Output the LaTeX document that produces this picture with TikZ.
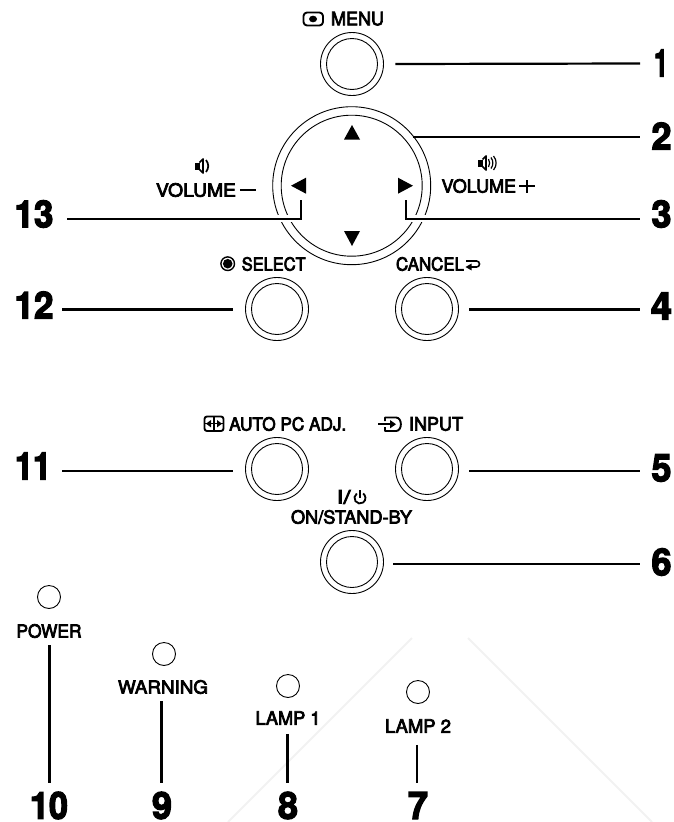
\documentclass[tikz,border=0pt]{standalone}
\usepackage{fontspec}
\usepackage{graphicx}
\setmainfont{TeX Gyre Heros}
\newfontfamily\lblfont[FakeBold=4]{TeX Gyre Heros}
\newfontfamily\numfont[FakeBold=3.5]{TeX Gyre Heros Bold}
\tikzset{
  btnouter/.style={circle,draw=black,line width=0.9pt,minimum size=63pt,inner sep=0pt},
  btninner/.style={circle,draw=black,line width=0.9pt,minimum size=51pt,inner sep=0pt},
  led/.style={circle,draw=black,line width=0.9pt,minimum size=23pt,inner sep=0pt},
  lbl/.style={inner sep=0pt,font=\lblfont\fontsize{18}{18}\selectfont},
  num/.style={inner sep=0pt,font=\numfont\fontsize{39}{39}\selectfont},
  leader/.style={draw=black,line width=2.2pt},
  halo/.style={draw=white,line width=7pt},
  icon/.style={draw=black,line width=1.9pt,line join=round},
  arrowtri/.style={fill=black,draw=none},
  wmark/.style={draw=black!5,line width=2pt}
}
\newcommand{\Lbl}[5]{\node[lbl] (#1) at (#2,#3) {\resizebox{#4pt}{13.5pt}{#5}};}
\newcommand{\Num}[5]{\node[num] (#1) at (#2,#3) {\resizebox{#4pt}{27pt}{#5}};}
\newcommand{\SpeakerIcon}[2]{%
  \fill (#1-8,#2-3.5) rectangle (#1-3.5,#2+3.5);
  \draw[line width=1.7pt,line join=round] (#1-3.5,#2-3.5) -- (#1,#2-7) -- (#1,#2+7) -- (#1-3.5,#2+3.5);
}
\begin{document}
\begin{tikzpicture}[x=1pt,y=-1pt]
\useasboundingbox (0,0) rectangle (674,822);
% faint watermark
\draw[wmark] (412,638) -- (228,822);
\draw[wmark] (468,638) -- (652,822);
% ring
\node[circle,draw=black,line width=0.9pt,minimum size=158pt,inner sep=0pt] (ringout) at (351.7,185.7) {};
\node[circle,draw=black,line width=0.9pt,minimum size=141pt,inner sep=0pt] (ringin) at (351.7,185.7) {};
% buttons
\node[btnouter] (b1) at (352,64) {};   \node[btninner] (b1i) at (352,64) {};
\node[btnouter] (b12) at (277,309) {}; \node[btninner] (b12i) at (277,309) {};
\node[btnouter] (b4) at (427,309) {};  \node[btninner] (b4i) at (427,309) {};
\node[btnouter] (b11) at (277,469) {}; \node[btninner] (b11i) at (277,469) {};
\node[btnouter] (b5) at (427,469) {};  \node[btninner] (b5i) at (427,469) {};
\node[btnouter] (b6) at (352,562) {};  \node[btninner] (b6i) at (352,562) {};
% leds
\node[led] (l10) at (49,597) {};
\node[led] (l9) at (164,654) {};
\node[led] (l8) at (288,686) {};
\node[led] (l7) at (418,692) {};
% direction triangles
\fill[arrowtri] (352,125) -- (360,139.5) -- (344,139.5) -- cycle;
\fill[arrowtri] (352,246) -- (360,231) -- (344,231) -- cycle;
\fill[arrowtri] (291,185.7) -- (306,177.7) -- (306,193.7) -- cycle;
\fill[arrowtri] (413,185.7) -- (398,177.7) -- (398,193.7) -- cycle;
% labels
\Lbl{menu}{357.5}{18.7}{53}{MENU}
\Lbl{volm}{196}{190}{80}{VOLUME}
\Lbl{volp}{478.8}{186}{74.5}{VOLUME}
\Lbl{select}{273.7}{264}{64}{SELECT}
\Lbl{cancel}{430}{264}{68}{CANCEL}
\Lbl{auto}{287.7}{424}{117}{AUTO PC ADJ.}
\Lbl{input}{436}{424}{54}{INPUT}
\Lbl{onstand}{351.5}{517}{121}{ON/STAND-BY}
\Lbl{islash}{343.5}{497}{14}{I/}
\Lbl{power}{49}{631}{65}{POWER}
\Lbl{warning}{163}{687}{90}{WARNING}
\Lbl{lamp1}{288}{718}{65}{LAMP 1}
\Lbl{lamp2}{418}{726}{66}{LAMP 2}
% numbers
\Num{n1}{661}{63}{14}{1}
\Num{n2}{661.5}{136}{20}{2}
\Num{n3}{661.5}{214}{20}{3}
\Num{n4}{661.5}{306}{21}{4}
\Num{n5}{661.5}{468}{20}{5}
\Num{n6}{661.5}{562}{20}{6}
\Num{n13}{34}{214}{39}{13}
\Num{n12}{34}{305}{39}{12}
\Num{n11}{33}{466}{36}{11}
\Num{n10}{49}{805.5}{38}{10}
\Num{n9}{162}{805.5}{20}{9}
\Num{n8}{288}{805.5}{20}{8}
\Num{n7}{418}{805.5}{20}{7}
% leader ends
\coordinate (e1) at (640,63.5);
\coordinate (e2) at (640,136.7);
\coordinate (c3) at (406,218.7);
\coordinate (t3) at (406,200);
\coordinate (e3) at (640,218.7);
\coordinate (c13) at (301,218.7);
\coordinate (t13) at (301,200);
\coordinate (e13) at (67,218.7);
\coordinate (s2) at (412.7,136.7);
% white breaks in the ring
\draw[halo] (c3) -- (e3);
\draw[halo] (c13) -- (e13);
% leaders
\draw[leader] ([xshift=11.5pt]b1.east) -- (e1);
\draw[leader] (s2) -- (e2);
\draw[leader] (t3) -- (c3) -- (e3);
\draw[leader] (t13) -- (c13) -- (e13);
\coordinate (e12) at (62,309.5);
\coordinate (e4) at (640,309.5);
\coordinate (e11) at (62,471);
\coordinate (e5) at (640,471);
\coordinate (e6) at (640,564);
\coordinate (e10) at (49.5,783);
\coordinate (e9) at (161.5,783);
\coordinate (e8) at (287.5,783);
\coordinate (e7) at (417,783);
\draw[leader] ([xshift=-12.5pt,yshift=-0.5pt]b12.west) -- (e12);
\draw[leader] ([xshift=10.5pt,yshift=-0.5pt]b4.east) -- (e4);
\draw[leader] ([xshift=-12.5pt,yshift=-2pt]b11.west) -- (e11);
\draw[leader] ([xshift=10.5pt,yshift=-2pt]b5.east) -- (e5);
\draw[leader] ([xshift=9.5pt,yshift=-2pt]b6.east) -- (e6);
\draw[leader] (power.south -| e10) ++(0,7) -- (e10);
\draw[leader] (warning.south -| e9) ++(0,7) -- (e9);
\draw[leader] (lamp1.south -| e8) ++(0,9) -- (e8);
\draw[leader] (lamp2.south -| e7) ++(0,12) -- (e7);
% volume dash and plus
\fill (240,188.7) rectangle (256,191.3);
\fill (519,184.5) rectangle (535,187.3);
\fill (525.6,179.5) rectangle (528.4,193);
% speakers
\SpeakerIcon{203}{166}
\draw[line width=1.7pt] (206,160) .. controls (209,164) and (209,168) .. (206,172);
\SpeakerIcon{486}{163}
\draw[line width=1.2pt] (488.5,159) .. controls (490,162) and (490,164) .. (488.5,167);
\draw[line width=1.2pt] (491,157.5) .. controls (493.5,161) and (493.5,165) .. (491,168.5);
\draw[line width=1.2pt] (493.5,156) .. controls (497,160) and (497,166) .. (493.5,170);
% menu icon
\draw[icon,rounded corners=3.5pt] (303.5,12.5) rectangle (323,25.5);
\fill (313,19) ellipse (4 and 3.3);
% select icon
\draw[line width=1.4pt] (227.7,263.7) circle (6.8);
\fill (227.7,263.7) circle (4.8);
% cancel icon
\draw[line width=1.6pt] (466,261) -- (476.5,261) arc (-90:90:3) -- (469,267);
\fill (465.5,267) -- (471.5,263.6) -- (471.5,270.4) -- cycle;
% auto icon
\draw[icon,rounded corners=2.5pt] (204.5,416.5) rectangle (223.5,431);
\draw[line width=1.5pt] (214,416.5) -- (214,431);
\draw[line width=1.5pt] (204.5,423.7) -- (223.5,423.7);
\fill (206,423.7) -- (211,420) -- (211,427.4) -- cycle;
\fill (222,423.7) -- (217,420) -- (217,427.4) -- cycle;
% input icon
\draw[icon] (385,421) -- (385,417.5) -- (396,417.5) .. controls (402.5,417.5) and (402.5,431) .. (396,431) -- (385,431) -- (385,427);
\draw[line width=1.6pt] (378,424.2) -- (391,424.2);
\fill (396,424.2) -- (390,420) -- (390,428.4) -- cycle;
% power icon
\draw[line width=1.8pt] (356.8,493.5) arc (-125:-415:5.5);
\draw[line width=1.8pt] (360,490) -- (360,497.5);
\end{tikzpicture}
\end{document}
